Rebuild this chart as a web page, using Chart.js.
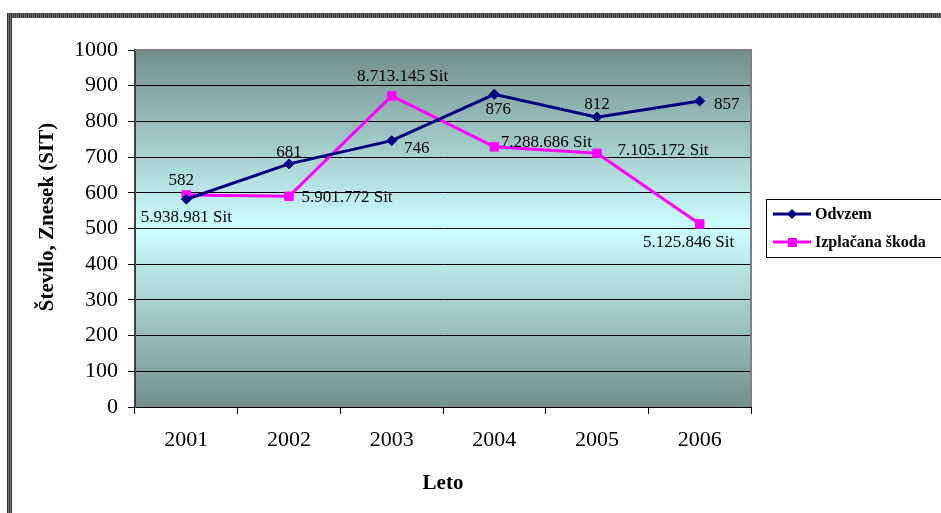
<!DOCTYPE html>
<html>
<head>
<meta charset="utf-8">
<script src="https://cdn.jsdelivr.net/npm/chart.js@4/dist/chart.umd.min.js"></script>
<style>
  html, body { margin: 0; padding: 0; background: #fff; overflow: hidden; }
  #wrap { width: 941px; height: 513px; position: relative; }
</style>
</head>
<body>
<div id="wrap"><canvas id="c" width="941" height="513"></canvas></div>
<script>
// Years on the category axis
const years = ['2001', '2002', '2003', '2004', '2005', '2006'];
// Number of seizures per year
const odvzem = [582, 681, 746, 876, 812, 857];
// Damages paid out per year, in SIT
const izplacanaSit = [5938981, 5901772, 8713145, 7288686, 7105172, 5125846];
// Value axis range
const yMin = 0, yMax = 1000, yStep = 100;
// Amounts are plotted in units of 10 000 SIT
const sitPerUnit = 10000;

// Where each value label sits relative to its point (text centre, px)
const odvzemLabelOffset = [[-5, -20], [0, -13], [25, 6], [4, 14], [0, -14], [27, 2]];
const izplacanaLabelOffset = [[0, 21], [58, 0], [11, -21], [52, -6], [66, -4], [-11, 17]];

const serif = "'Liberation Serif', 'Times New Roman', serif";
const NAVY = '#000080';
const MAGENTA = '#ff00ff';

function sitLabel(v) {
  return String(v).replace(/\B(?=(\d{3})+(?!\d))/g, '.') + ' Sit';
}

const decor = {
  id: 'decor',
  beforeDraw(chart) {
    const ctx = chart.ctx;
    const a = chart.chartArea;
    ctx.save();
    ctx.fillStyle = '#ffffff';
    ctx.fillRect(0, 0, chart.width, chart.height);

    // striped outer frame (top and left edges)
    ctx.fillStyle = '#3a3a3a';
    ctx.fillRect(7, 13, chart.width - 7, 5);
    ctx.fillRect(7, 13, 5, chart.height - 13);
    ctx.fillStyle = '#6e6e6e';
    for (let x = 8; x < chart.width; x += 2) ctx.fillRect(x, 13, 1, 5);
    for (let x = 8; x < 12; x += 2) ctx.fillRect(x, 18, 1, chart.height - 18);

    // plot area gradient
    const g = ctx.createLinearGradient(0, a.top, 0, a.bottom);
    g.addColorStop(0, '#728f8c');
    g.addColorStop(0.5, '#ccffff');
    g.addColorStop(1, '#728f8c');
    ctx.fillStyle = g;
    ctx.fillRect(a.left, a.top, a.right - a.left, a.bottom - a.top);
    ctx.restore();
  },
  afterDraw(chart) {
    const ctx = chart.ctx;
    const a = chart.chartArea;
    ctx.save();

    // plot border on top and right
    ctx.strokeStyle = '#808080';
    ctx.lineWidth = 2;
    ctx.beginPath();
    ctx.moveTo(a.left, a.top);
    ctx.lineTo(a.right, a.top);
    ctx.lineTo(a.right, a.bottom);
    ctx.stroke();

    // value labels
    ctx.fillStyle = '#000';
    ctx.font = '17px ' + serif;
    ctx.textAlign = 'center';
    ctx.textBaseline = 'alphabetic';
    const m0 = chart.getDatasetMeta(0).data;
    const m1 = chart.getDatasetMeta(1).data;
    m0.forEach((p, i) => {
      const [dx, dy] = odvzemLabelOffset[i];
      ctx.fillText(String(odvzem[i]), p.x + dx, p.y + dy + 6);
    });
    m1.forEach((p, i) => {
      const [dx, dy] = izplacanaLabelOffset[i];
      ctx.fillText(sitLabel(izplacanaSit[i]), p.x + dx, p.y + dy + 6);
    });

    // axis titles
    ctx.font = 'bold 21px ' + serif;
    ctx.textAlign = 'center';
    ctx.fillText('Leto', (a.left + a.right) / 2, 489);
    ctx.save();
    ctx.translate(53, 217);
    ctx.rotate(-Math.PI / 2);
    ctx.fillText('Število, Znesek (SIT)', 0, 0);
    ctx.restore();

    // legend
    const lx = 766, ly = 199;
    ctx.strokeStyle = '#000';
    ctx.lineWidth = 1;
    ctx.strokeRect(lx + 0.5, ly + 0.5, 190, 58);
    const entries = [
      { text: 'Odvzem', color: NAVY, y: ly + 15, style: 'diamond' },
      { text: 'Izplačana škoda', color: MAGENTA, y: ly + 43, style: 'square' }
    ];
    ctx.font = 'bold 16px ' + serif;
    ctx.textAlign = 'left';
    entries.forEach(e => {
      ctx.strokeStyle = e.color;
      ctx.lineWidth = 3;
      ctx.beginPath();
      ctx.moveTo(773, e.y);
      ctx.lineTo(811, e.y);
      ctx.stroke();
      ctx.fillStyle = e.color;
      if (e.style === 'diamond') {
        ctx.beginPath();
        ctx.moveTo(792, e.y - 5);
        ctx.lineTo(797, e.y);
        ctx.lineTo(792, e.y + 5);
        ctx.lineTo(787, e.y);
        ctx.closePath();
        ctx.fill();
      } else {
        ctx.fillRect(788, e.y - 4, 9, 9);
      }
      ctx.fillStyle = '#000';
      ctx.fillText(e.text, 815, e.y + 5);
    });
    ctx.restore();
  }
};

new Chart(document.getElementById('c').getContext('2d'), {
  type: 'line',
  data: {
    labels: years,
    datasets: [
      {
        label: 'Odvzem',
        data: odvzem,
        borderColor: NAVY,
        backgroundColor: NAVY,
        pointBorderColor: NAVY,
        pointBackgroundColor: NAVY,
        borderWidth: 3,
        pointStyle: 'rectRot',
        pointRadius: 5,
        pointBorderWidth: 1,
        tension: 0,
        fill: false
      },
      {
        label: 'Izplačana škoda',
        data: izplacanaSit.map(v => v / sitPerUnit),
        borderColor: MAGENTA,
        backgroundColor: MAGENTA,
        pointBorderColor: MAGENTA,
        pointBackgroundColor: MAGENTA,
        borderWidth: 3,
        pointStyle: 'rect',
        pointRadius: 6,
        pointBorderWidth: 1,
        tension: 0,
        fill: false
      }
    ]
  },
  options: {
    responsive: false,
    animation: false,
    devicePixelRatio: 1,
    layout: { padding: { top: 50, right: 190, left: 0, bottom: 0 } },
    plugins: { legend: { display: false }, tooltip: { enabled: false }, title: { display: false } },
    scales: {
      x: {
        offset: true,
        grid: { offset: true, drawOnChartArea: false, drawTicks: true, tickLength: 7, color: '#000', tickColor: '#000' },
        border: { color: '#000', width: 1 },
        ticks: { font: { family: serif, size: 22 }, color: '#000', padding: 13, maxRotation: 0 },
        afterFit(s) { s.height = 106; }
      },
      y: {
        min: yMin,
        max: yMax,
        ticks: {
          stepSize: yStep,
          font: { family: serif, size: 22 },
          color: '#000',
          padding: 10,
          callback: v => String(v)
        },
        grid: {
          color: c => (c.tick && c.tick.value === yMax) ? '#808080' : '#000',
          tickColor: '#000',
          tickLength: 7,
          lineWidth: 1
        },
        border: { color: '#404040', width: 2 },
        afterFit(s) { s.width = 135; }
      }
    }
  },
  plugins: [decor]
});
</script>
</body>
</html>
